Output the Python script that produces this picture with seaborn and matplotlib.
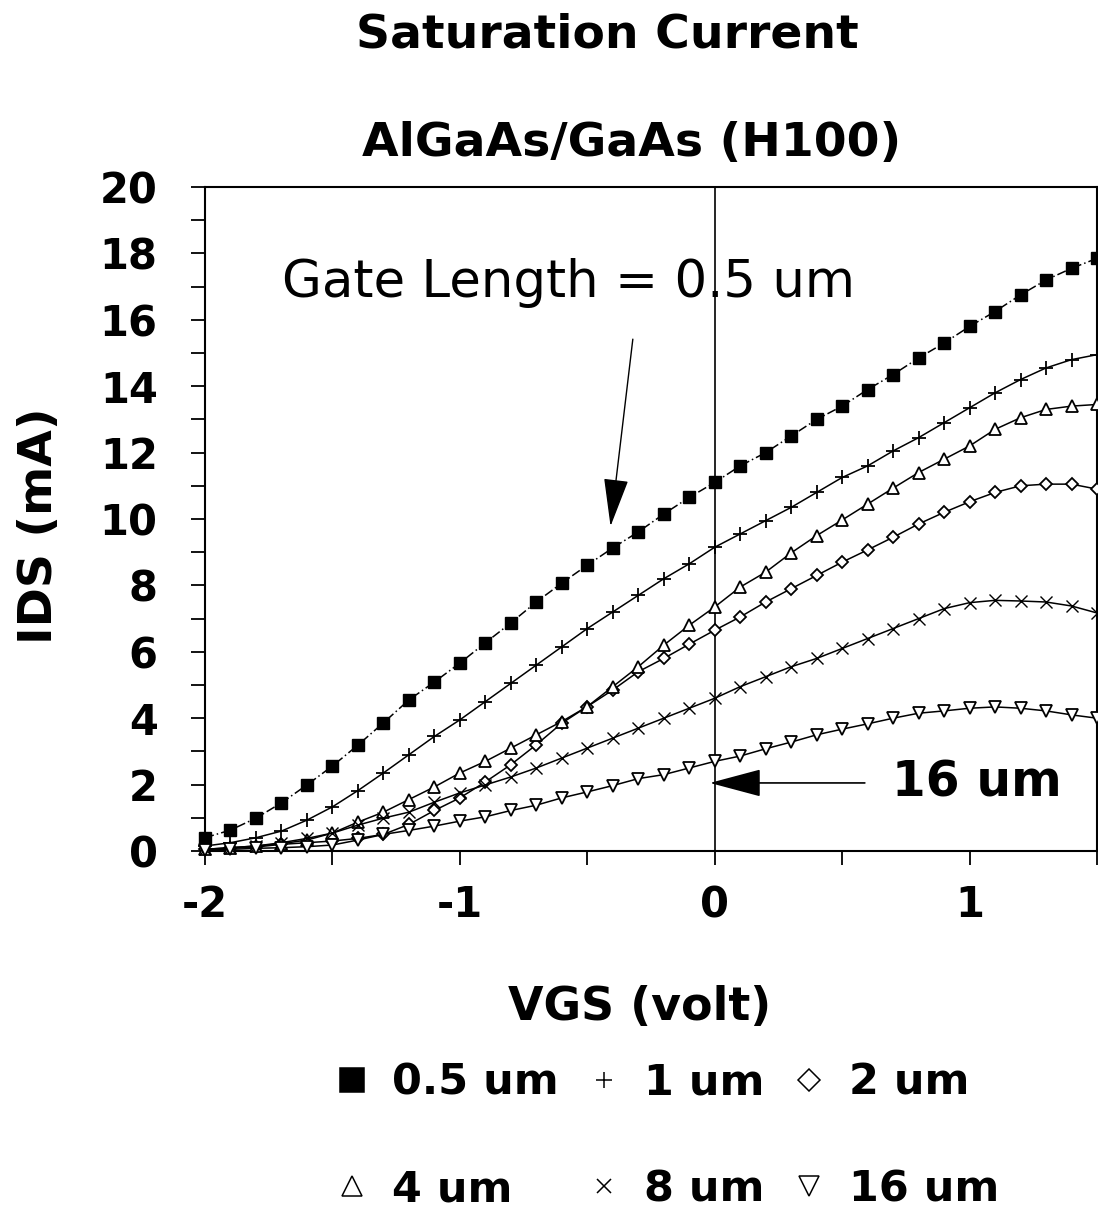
import matplotlib
matplotlib.use("Agg")
import matplotlib.pyplot as plt
import seaborn as sns
import pandas as pd
from matplotlib.lines import Line2D
from matplotlib.ticker import MultipleLocator

sns.set_theme(style="white")
plt.rcParams['font.family'] = ['DejaVu Sans']
plt.rcParams['text.color'] = 'black'
plt.rcParams['axes.labelcolor'] = 'black'
plt.rcParams['xtick.color'] = 'black'
plt.rcParams['ytick.color'] = 'black'

vgs = [-2.0, -1.9, -1.8, -1.7, -1.6, -1.5, -1.4, -1.3, -1.2, -1.1, -1.0, -0.9,
       -0.8, -0.7, -0.6, -0.5, -0.4, -0.3, -0.2, -0.1, 0.0, 0.1, 0.2, 0.3,
       0.4, 0.5, 0.6, 0.7, 0.8, 0.9, 1.0, 1.1, 1.2, 1.3, 1.4, 1.5]

ids_05um = [0.4, 0.63, 0.99, 1.45, 1.99, 2.56, 3.19, 3.86, 4.55, 5.09, 5.66, 6.27,
            6.87, 7.5, 8.07, 8.61, 9.13, 9.61, 10.15, 10.65, 11.1, 11.6, 12.0, 12.5,
            13.0, 13.4, 13.9, 14.35, 14.85, 15.3, 15.8, 16.25, 16.75, 17.2, 17.55, 17.85]
ids_1um = [0.15, 0.25, 0.4, 0.6, 0.93, 1.33, 1.82, 2.35, 2.9, 3.45, 3.95, 4.5,
           5.05, 5.6, 6.15, 6.7, 7.2, 7.7, 8.2, 8.65, 9.15, 9.55, 9.95, 10.35,
           10.8, 11.25, 11.6, 12.05, 12.45, 12.9, 13.35, 13.8, 14.2, 14.55, 14.8, 14.95]
ids_2um = [0.05, 0.08, 0.12, 0.2, 0.25, 0.3, 0.38, 0.5, 0.8, 1.22, 1.6, 2.08,
           2.6, 3.2, 3.85, 4.35, 4.85, 5.4, 5.8, 6.23, 6.65, 7.05, 7.5, 7.9,
           8.3, 8.7, 9.07, 9.45, 9.85, 10.2, 10.52, 10.8, 11.0, 11.05, 11.05, 10.9]
ids_4um = [0.05, 0.1, 0.15, 0.22, 0.33, 0.54, 0.87, 1.17, 1.55, 1.93, 2.35, 2.7,
           3.1, 3.5, 3.9, 4.35, 4.95, 5.55, 6.2, 6.8, 7.35, 7.95, 8.4, 8.98,
           9.5, 9.97, 10.45, 10.93, 11.4, 11.8, 12.2, 12.7, 13.05, 13.3, 13.4, 13.45]
ids_8um = [0.05, 0.1, 0.15, 0.25, 0.38, 0.54, 0.78, 0.99, 1.17, 1.47, 1.75, 1.99,
           2.23, 2.5, 2.8, 3.1, 3.4, 3.7, 4.0, 4.3, 4.6, 4.95, 5.25, 5.55,
           5.8, 6.1, 6.4, 6.7, 7.0, 7.3, 7.48, 7.55, 7.53, 7.5, 7.38, 7.17]
ids_16um = [0.02, 0.05, 0.08, 0.1, 0.13, 0.18, 0.33, 0.5, 0.62, 0.75, 0.9, 1.03,
            1.22, 1.38, 1.6, 1.78, 1.97, 2.18, 2.3, 2.5, 2.7, 2.86, 3.08, 3.28,
            3.5, 3.67, 3.83, 4.0, 4.15, 4.22, 4.3, 4.34, 4.3, 4.22, 4.1, 4.0]

labels = ["0.5 um", "1 um", "2 um", "4 um", "8 um", "16 um"]
series = [ids_05um, ids_1um, ids_2um, ids_4um, ids_8um, ids_16um]

styles = {
    "0.5 um": dict(marker="s", markersize=9, markerfacecolor="black", mew=1, linestyle=(0, (6, 2, 1, 2)), legsize=17),
    "1 um": dict(marker="+", markersize=10, markerfacecolor="black", mew=1.3, linestyle="-", legsize=11),
    "2 um": dict(marker="D", markersize=6.5, markerfacecolor="white", mew=1.3, linestyle="-", legsize=11),
    "4 um": dict(marker="^", markersize=9, markerfacecolor="white", mew=1.3, linestyle="-", legsize=15),
    "8 um": dict(marker="x", markersize=9, markerfacecolor="black", mew=1.0, linestyle="-", legsize=10),
    "16 um": dict(marker="v", markersize=9, markerfacecolor="white", mew=1.3, linestyle="-", legsize=15),
}

df = pd.DataFrame({"VGS": vgs * len(labels),
                   "IDS": sum(series, []),
                   "Gate": [lab for lab in labels for _ in vgs]})

fig = plt.figure(figsize=(10.98, 12.16), dpi=100)
ax = fig.add_axes([205 / 1098, 1 - 851 / 1216, 892 / 1098, (851 - 187) / 1216])

for lab in labels:
    sub = df[df["Gate"] == lab]
    st = styles[lab]
    sns.lineplot(data=sub, x="VGS", y="IDS", ax=ax, color="black", lw=1.1,
                 marker=st["marker"], markersize=st["markersize"],
                 markerfacecolor=st["markerfacecolor"], markeredgecolor="black",
                 markeredgewidth=st["mew"], linestyle=st["linestyle"], legend=False,
                 clip_on=False, zorder=3)

ax.axvline(0, color="black", lw=1.2, zorder=1)

ax.set_xlim(-2, 1.5)
ax.set_ylim(0, 20)
ax.xaxis.set_major_locator(MultipleLocator(1))
ax.xaxis.set_minor_locator(MultipleLocator(0.5))
ax.yaxis.set_major_locator(MultipleLocator(2))
ax.yaxis.set_minor_locator(MultipleLocator(1))
ax.set_xticks([-2, -1, 0, 1])
ax.set_xticklabels(["-2", "-1", "0", "1"])
ax.tick_params(axis="both", which="both", direction="out", length=10, width=1.3,
               color="black", bottom=True, left=True)
ax.tick_params(axis="y", which="major", labelsize=30, pad=24)
ax.tick_params(axis="x", which="major", labelsize=30, pad=14)
for lbl in ax.get_xticklabels() + ax.get_yticklabels():
    lbl.set_fontweight("bold")
for sp in ax.spines.values():
    sp.set_color("black")
    sp.set_linewidth(1.5)

ax.set_xlabel("VGS (volt)", fontsize=33, fontweight="bold", va="center")
ax.xaxis.set_label_coords((640 - 205) / 892, -(1008 - 851) / 664)
ax.set_ylabel("IDS (mA)", fontsize=34, fontweight="bold", va="center")
ax.yaxis.set_label_coords((40 - 205) / 892, (851 - 526) / 664)

fig.text(607 / 1098, 1 - 35 / 1216, "Saturation Current", ha="center", va="center",
         fontsize=34, fontweight="bold")
fig.text(632 / 1098, 1 - 143 / 1216, "AlGaAs/GaAs (H100)", ha="center", va="center",
         fontsize=34, fontweight="bold")

ax.annotate("", xy=(-0.41, 9.7), xytext=(-0.32, 15.5),
            arrowprops=dict(arrowstyle="-|>,head_length=1.4,head_width=0.36",
                            mutation_scale=22, color="black", lw=1.0))
ax.text(-0.573, 17.1, "Gate Length = 0.5 um", ha="center", va="center", fontsize=37)

ax.annotate("", xy=(-0.03, 2.05), xytext=(0.6, 2.05),
            arrowprops=dict(arrowstyle="-|>,head_length=1.5,head_width=0.4",
                            mutation_scale=22, color="black", lw=1.2))
ax.text(1.03, 2.05, "16 um", ha="center", va="center", fontsize=35, fontweight="bold")

order = ["0.5 um", "4 um", "1 um", "8 um", "2 um", "16 um"]
handles = []
for lab in order:
    st = styles[lab]
    handles.append(Line2D([], [], color="black", linestyle="none", marker=st["marker"],
                          markersize=st["legsize"], markerfacecolor=st["markerfacecolor"],
                          markeredgecolor="black", markeredgewidth=1.1))
leg = fig.legend(handles, order, ncol=3, loc="center", bbox_to_anchor=(665 / 1098, 1 - 1136 / 1216),
                 frameon=False, fontsize=31, handlelength=1.0, borderpad=0,
                 handletextpad=0.43, columnspacing=0.55, labelspacing=1.49)
for t in leg.get_texts():
    t.set_fontweight("bold")

fig.savefig("out.png", dpi=100)
